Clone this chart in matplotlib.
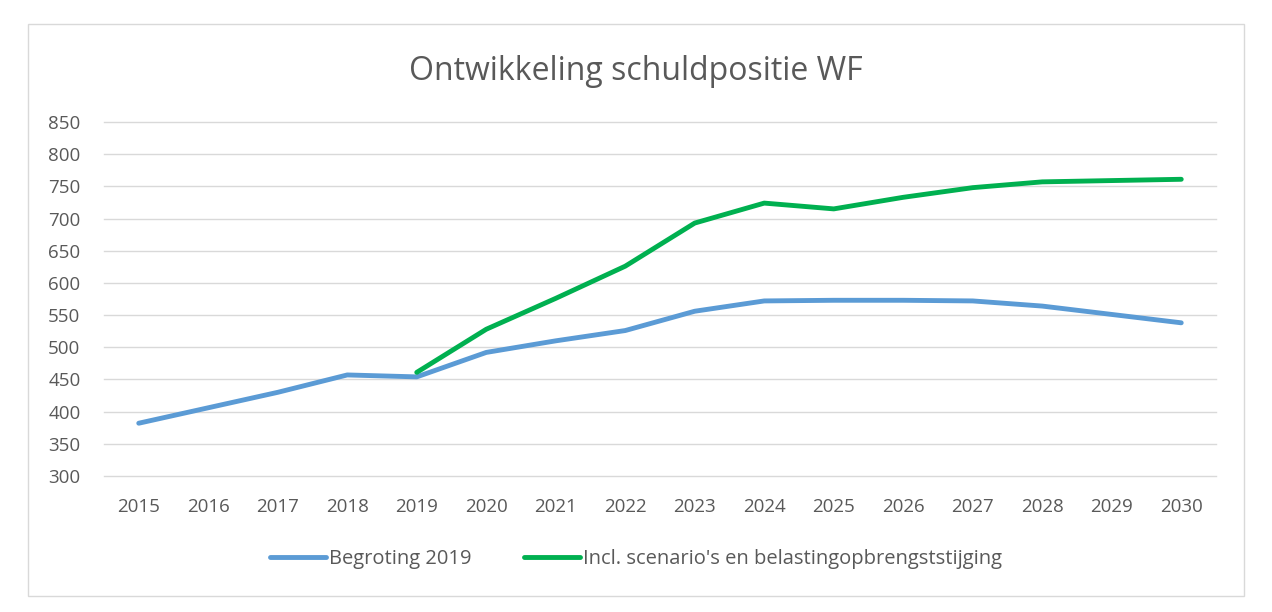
import matplotlib
matplotlib.use("Agg")
import matplotlib.pyplot as plt
from matplotlib.patches import Rectangle

years = list(range(2015, 2031))
begroting = [382, 406, 430, 457, 454, 492, 510, 526, 556, 572, 573, 573, 572, 564, 551, 538]
scen_years = list(range(2019, 2031))
scenario = [461, 528, 576, 626, 693, 724, 715, 733, 748, 757, 759, 761]
yticks = list(range(300, 851, 50))

plt.rcParams['font.family'] = ['Open Sans', 'DejaVu Sans']
txt = '#595959'

fig = plt.figure(figsize=(12.72, 6.12), dpi=100)
fig.patches.append(Rectangle((28/1272, 1-596/612), (1244-28)/1272, (596-24)/612,
                             transform=fig.transFigure, fill=False, edgecolor='#D9D9D9', lw=1))
ax = fig.add_axes([104/1272, 1-476/612, (1216-104)/1272, (476-122)/612])
ax.plot(years, begroting, color='#5B9BD5', lw=3.5, solid_capstyle='round', label='Begroting 2019')
ax.plot(scen_years, scenario, color='#00B050', lw=3.5, solid_capstyle='round',
        label="Incl. scenario's en belastingopbrengststijging")
ax.set_xlim(2014.5, 2030.5)
ax.set_ylim(300, 850)
ax.set_yticks(yticks)
ax.set_xticks(years)
ax.grid(axis='y', color='#D9D9D9', lw=1)
for gl in ax.get_ygridlines():
    gl.set_clip_on(False)
ax.set_axisbelow(True)
for s in ax.spines.values():
    s.set_visible(False)
ax.tick_params(length=0, labelsize=13.5, colors=txt)
ax.tick_params(axis='x', pad=16)
ax.tick_params(axis='y', pad=17)
fig.text(0.5, 1-71/612, 'Ontwikkeling schuldpositie WF', ha='center', va='center',
         fontsize=23, color=txt)
leg = fig.legend(loc='center', bbox_to_anchor=(0.5, 1-559/612), ncol=2, frameon=False,
                 fontsize=14.5, labelcolor=txt, handlelength=2.8, handletextpad=0.15,
                 columnspacing=2.6)
fig.savefig('out.png', dpi=100)
